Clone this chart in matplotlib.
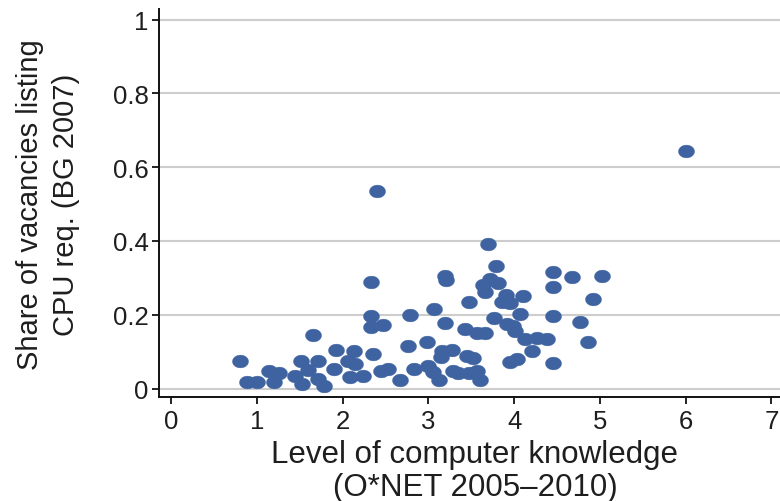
import numpy as np
import matplotlib
matplotlib.use('Agg')
import matplotlib.pyplot as plt
from matplotlib.path import Path

plt.rcParams['font.family'] = ['Liberation Sans', 'DejaVu Sans']

# level of computer knowledge (O*NET) and share of vacancies asking for CPU skills
cpu_knowledge = [
    0.80, 0.88, 1.00, 1.14, 1.20, 1.26, 1.45, 1.51, 1.53, 1.60,
    1.66, 1.71, 1.71, 1.78, 1.90, 1.92, 2.06, 2.09, 2.13, 2.15,
    2.24, 2.33, 2.33, 2.33, 2.47, 2.35, 2.40, 2.45, 2.53, 2.67,
    2.76, 2.79, 2.83, 2.98, 3.00, 3.06, 3.07, 3.12, 3.16, 3.15,
    3.19, 3.21, 3.20, 3.28, 3.29, 3.35, 3.43, 3.47, 3.45, 3.52,
    3.47, 3.57, 3.60, 3.57, 3.66, 3.64, 3.66, 3.72, 3.70, 3.79,
    3.81, 3.76, 3.86, 3.91, 3.95, 3.92, 3.99, 4.01, 4.07, 4.10,
    3.95, 4.03, 4.13, 4.21, 4.27, 4.38, 4.45, 4.45, 4.45, 4.45,
    4.67, 4.77, 4.86, 4.92, 5.02, 6.00,
]
cpu_share = [
    0.075, 0.018, 0.018, 0.048, 0.018, 0.042, 0.034, 0.075, 0.012, 0.050,
    0.145, 0.075, 0.026, 0.007, 0.053, 0.104, 0.075, 0.031, 0.102, 0.066,
    0.034, 0.289, 0.197, 0.167, 0.172, 0.093, 0.536, 0.047, 0.053, 0.023,
    0.115, 0.199, 0.053, 0.126, 0.061, 0.045, 0.216, 0.023, 0.102, 0.086,
    0.305, 0.294, 0.178, 0.104, 0.047, 0.042, 0.161, 0.235, 0.088, 0.083,
    0.042, 0.047, 0.023, 0.151, 0.151, 0.281, 0.262, 0.297, 0.392, 0.332,
    0.286, 0.191, 0.235, 0.254, 0.232, 0.175, 0.170, 0.156, 0.202, 0.251,
    0.072, 0.080, 0.134, 0.102, 0.137, 0.134, 0.316, 0.275, 0.197, 0.069,
    0.302, 0.180, 0.126, 0.243, 0.305, 0.644,
]

xticks = [0, 1, 2, 3, 4, 5, 6, 7]
yticks = [0, 0.2, 0.4, 0.6, 0.8, 1]
ytick_labels = ['0', '0.2', '0.4', '0.6', '0.8', '1']

dot_color = '#3e63a0'
text_color = '#1e1e1e'

# slightly flattened dot marker
t = np.linspace(0, 2 * np.pi, 60)
ellipse = Path(np.column_stack([1.25 * np.cos(t), np.sin(t)]), closed=True)

W, H = 780, 502
fig = plt.figure(figsize=(W / 100, H / 100), dpi=100)
ax = fig.add_axes([158.5 / W, (H - 398) / H, (W - 158.5) / W, 388 / H])

ax.plot(cpu_knowledge, cpu_share, ls='none', marker=ellipse, ms=11.5,
        mfc=dot_color, mec=dot_color, mew=0.3, zorder=3)

ax.set_xlim(-0.146, 7.1)
ax.set_ylim(-0.023, 1.029)
ax.set_xticks(xticks)
ax.set_yticks(yticks)
ax.set_yticklabels(ytick_labels)

ax.grid(axis='y', color='#cdcdcd', lw=1.5, zorder=0)
ax.grid(axis='x', visible=False)
for side in ['top', 'right']:
    ax.spines[side].set_visible(False)
for side in ['left', 'bottom']:
    ax.spines[side].set_color('#111111')
    ax.spines[side].set_linewidth(1.4)

ax.tick_params(axis='both', colors='#111111', labelcolor=text_color,
               labelsize=18.5, width=1.3)
ax.tick_params(axis='y', length=5, pad=2)
ax.tick_params(axis='x', length=5, pad=4)

# axis titles, two lines each
fig.text(30 / W, 1 - 205 / H, 'Share of vacancies listing', rotation=90,
         ha='center', va='center', fontsize=21, color=text_color)
fig.text(66 / W, 1 - 205 / H, 'CPU req. (BG 2007)', rotation=90,
         ha='center', va='center', fontsize=21, color=text_color)
fig.text(475 / W, 1 - 455 / H, 'Level of computer knowledge',
         ha='center', va='center', fontsize=22.5, color=text_color)
fig.text(475 / W, 1 - 488 / H, '(O*NET 2005\u20132010)',
         ha='center', va='center', fontsize=22.5, color=text_color)

fig.savefig('out.png', dpi=100, facecolor='white')
